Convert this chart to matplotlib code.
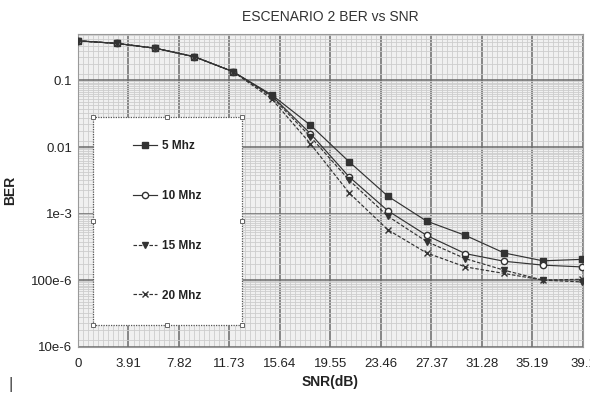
import matplotlib
matplotlib.use("Agg")
import matplotlib.pyplot as plt
import numpy as np
from matplotlib.ticker import FixedLocator, LogLocator, NullFormatter, MultipleLocator
from matplotlib.patches import Rectangle

plt.rcParams['font.family'] = ['Liberation Sans Narrow', 'Liberation Sans', 'DejaVu Sans']

snr = [0, 3, 6, 9, 12, 15, 18, 21, 24, 27, 30, 33, 36, 39]
ber_5 = [0.395, 0.361, 0.305, 0.228, 0.136, 0.061, 0.0213, 0.0060, 0.00182, 0.00077, 0.00047, 0.000256, 0.000195, 0.000205]
ber_10 = [0.395, 0.361, 0.305, 0.228, 0.136, 0.059, 0.0159, 0.00356, 0.00110, 0.00047, 0.00025, 0.000192, 0.000168, 0.000158]
ber_15 = [0.395, 0.361, 0.305, 0.228, 0.136, 0.057, 0.0143, 0.00318, 0.00091, 0.00038, 0.00021, 0.000141, 0.000100, 0.000094]
ber_20 = [0.395, 0.361, 0.305, 0.228, 0.136, 0.053, 0.0112, 0.00204, 0.00057, 0.000256, 0.000158, 0.000126, 0.000100, 0.000103]
labels = ['5 Mhz', '10 Mhz', '15 Mhz', '20 Mhz']

xticks = [0, 3.91, 7.82, 11.73, 15.64, 19.55, 23.46, 27.37, 31.28, 35.19, 39.1]
xticklabels = ['0', '3.91', '7.82', '11.73', '15.64', '19.55', '23.46', '27.37', '31.28', '35.19', '39.1']
yticks = [1e-5, 1e-4, 1e-3, 1e-2, 1e-1]
yticklabels = ['10e-6', '100e-6', '1e-3', '0.01', '0.1']

fig = plt.figure(figsize=(5.9, 3.98), dpi=100)
fig.patch.set_facecolor('white')
ax = fig.add_axes([0.1322, 0.129, 0.8558, 0.7856])
ax.set_facecolor('#f0f0f0')
ax.set_yscale('log')
ax.set_xlim(0, 39.1)
ax.set_ylim(1e-5, 0.5)

ax.xaxis.set_major_locator(FixedLocator(xticks))
ax.set_xticklabels(xticklabels)
ax.xaxis.set_minor_locator(MultipleLocator(0.391))
ax.yaxis.set_major_locator(FixedLocator(yticks))
ax.set_yticklabels(yticklabels)
ax.yaxis.set_minor_locator(LogLocator(base=10, subs=np.arange(1.25, 10, 0.5)))
ax.yaxis.set_minor_formatter(NullFormatter())

ax.grid(True, which='minor', color='#cdcdcd', linewidth=0.6)
ax.grid(True, which='major', color='#6a6a6a', linewidth=1.1)
ax.set_axisbelow(True)
ax.tick_params(which='both', length=0)
ax.tick_params(axis='x', labelsize=9.5, pad=8, colors='#222222')
ax.tick_params(axis='y', labelsize=9.5, pad=4, colors='#222222')
for s in ax.spines.values():
    s.set_color('#9a9a9a')
    s.set_linewidth(0.8)

lc = '#333333'
ax.plot(snr, ber_5, '-', color=lc, lw=0.85, marker='s', ms=4, mfc=lc, mec=lc, label=labels[0], zorder=4)
ax.plot(snr, ber_10, '-', color=lc, lw=0.85, marker='o', ms=4.5, mfc='white', mec=lc, label=labels[1], zorder=4)
ax.plot(snr, ber_15, '--', color=lc, lw=0.85, marker='v', ms=4, mfc=lc, mec=lc, label=labels[2], zorder=4, dashes=(3, 1.5))
ax.plot(snr, ber_20, '--', color=lc, lw=0.85, marker='x', ms=4.5, mew=1.0, label=labels[3], zorder=4, dashes=(3, 1.5))

# legend box
bx0, bx1, by0, by1 = 0.029, 0.325, 0.069, 0.735
rect = Rectangle((bx0, by0), bx1 - bx0, by1 - by0, transform=ax.transAxes,
                 facecolor='white', edgecolor='#555555', linestyle=(0, (1, 1)),
                 linewidth=0.9, zorder=5)
ax.add_patch(rect)
hx = [bx0, (bx0 + bx1) / 2, bx1, bx0, bx1, bx0, (bx0 + bx1) / 2, bx1]
hy = [by1, by1, by1, (by0 + by1) / 2, (by0 + by1) / 2, by0, by0, by0]
ax.plot(hx, hy, linestyle='none', marker='s', ms=3.5, mfc='white', mec='#666666',
        mew=0.7, transform=ax.transAxes, clip_on=False, zorder=6)

leg = ax.legend(loc='center', bbox_to_anchor=(bx0, by0, bx1 - bx0, by1 - by0),
                bbox_transform=ax.transAxes, frameon=False,
                labelspacing=3.2, handlelength=2.0, handletextpad=0.5,
                prop={'weight': 'bold', 'size': 8.5})
leg.set_zorder(7)
for t in leg.get_texts():
    t.set_color('#222222')

fig.text(0.56, 0.957, 'ESCENARIO 2 BER vs SNR', ha='center', va='center', fontsize=10, color='#333333')
ax.set_xlabel('SNR(dB)', fontsize=10, fontweight='bold', color='#222222', labelpad=4)
ax.set_ylabel('BER', fontsize=10, fontweight='bold', color='#222222', labelpad=10)
fig.text(0.018, 0.035, '|', fontsize=12, color='#444444', ha='center', va='center')

fig.savefig('out.png', dpi=100)
